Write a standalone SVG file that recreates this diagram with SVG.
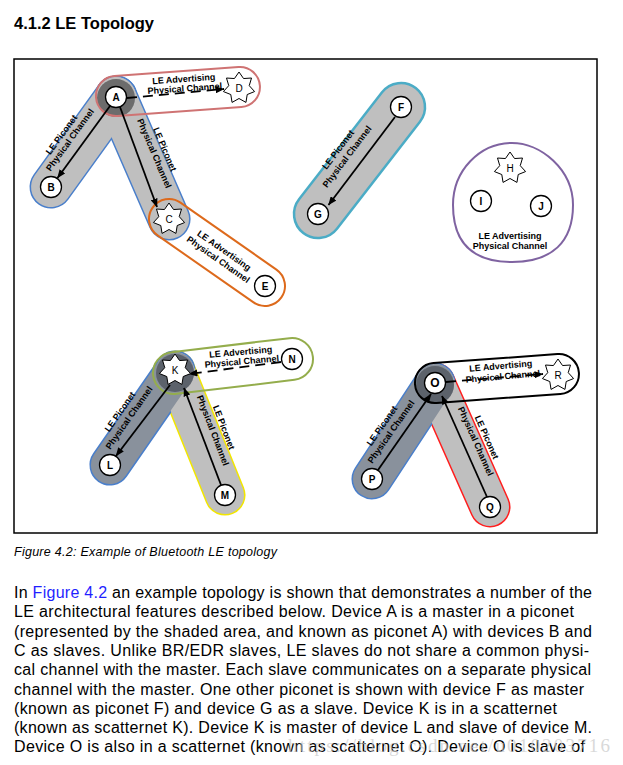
<svg xmlns="http://www.w3.org/2000/svg" xmlns:xlink="http://www.w3.org/1999/xlink" width="623" height="765" viewBox="0 0 623 765">
<style>
text{font-family:"Liberation Sans",Arial,sans-serif;fill:#000}
.title{font-size:16.5px;font-weight:bold}
.cap{font-size:12.5px;font-style:italic}
.body{font-size:16px}
.lbl{font-size:9px;font-weight:bold;text-anchor:middle}
.nl{font-size:10px;font-weight:bold;text-anchor:middle}
.sl{font-size:10px;text-anchor:middle}
.node{fill:#fff;stroke:#000;stroke-width:1.3}
.star{fill:#fff;stroke:#000;stroke-width:1}
.arr{stroke:#000;stroke-width:1.8;fill:none;marker-end:url(#ah)}
.dash{stroke-dasharray:10 6}
.lt{fill:#bfbfbf}
.dk{fill:#89919c}
.ov{fill:#6c6c6c}
.ovb{fill:#5c626b}
.adv{fill:none;stroke-width:2}
</style>
<defs>
<marker id="ah" viewBox="0 0 10 8" refX="9.5" refY="4" markerWidth="9" markerHeight="7" markerUnits="userSpaceOnUse" orient="auto">
<path d="M0,0 L10,4 L0,8 Z" fill="#000"/>
</marker>
<polygon id="star" points="0,-16 4.55,-9.46 12.51,-9.98 10.24,-2.34 15.59,3.56 8.21,6.54 6.94,14.41 0,10.5 -6.94,14.41 -8.21,6.54 -15.59,3.56 -10.24,-2.34 -12.51,-9.98 -4.55,-9.46"/>
<rect id="armAB" x="-75.5" y="-20" width="151" height="40" rx="20" transform="translate(83.5,142) rotate(125.8)"/>
<rect id="armAC" x="-86.5" y="-20" width="173" height="40" rx="20" transform="translate(142.5,158) rotate(66.5)"/>
<rect id="armKL" x="-76.2" y="-19" width="152.4" height="38" rx="19" transform="translate(142.5,418) rotate(124.7)"/>
<rect id="armKM" x="-85.9" y="-19" width="171.8" height="38" rx="19" transform="translate(200,433) rotate(68.04)"/>
<rect id="armOP" x="-76.4" y="-19" width="152.8" height="38" rx="19" transform="translate(403.5,431) rotate(123.3)"/>
<rect id="armOQ" x="-86.8" y="-19" width="173.6" height="38" rx="19" transform="translate(462.5,445) rotate(66.08)"/>
</defs>
<rect width="623" height="765" fill="#fff"/>
<text class="title" x="14" y="29">4.1.2 LE Topology</text>
<rect x="14" y="59" width="583" height="474" fill="none" stroke="#000" stroke-width="1.5"/>

<!-- piconet A shapes -->
<g id="piconetA">
<use xlink:href="#armAB" class="lt" stroke="#4a7fcb" stroke-width="3"/>
<use xlink:href="#armAC" class="lt" stroke="#4a7fcb" stroke-width="3"/>
<use xlink:href="#armAB" class="lt"/>
<use xlink:href="#armAC" class="lt"/>
<circle class="ov" cx="116" cy="98" r="19"/>
<rect class="adv" stroke="#cf7373" x="-82.2" y="-20" width="164.3" height="40" rx="20" transform="translate(178,91.5) rotate(-4.15)"/>
<rect class="adv" stroke="#dd6a1c" x="-78.5" y="-20" width="157" height="40" rx="20" transform="translate(217,252.5) rotate(34.91)"/>
</g>
<!-- piconet F -->
<g id="piconetF">
<rect fill="#bfbfbf" stroke="#4bacc6" stroke-width="2.5" x="-91.7" y="-24" width="183.4" height="48" rx="24" transform="translate(359.5,160.5) rotate(127.8)"/>
</g>
<!-- advertising H I J -->
<g id="advHIJ">
<path d="M510,143 C541,142 573,170 573,205 C573,242 552,262 512,262 C472,262 453,242 453,205 C453,170 480,144 510,143 Z" fill="none" stroke="#7f63a1" stroke-width="2"/>
</g>
<!-- scatternet K -->
<g id="scatternetK">
<use xlink:href="#armKM" class="lt" stroke="#f2e600" stroke-width="3"/>
<use xlink:href="#armKL" class="dk" stroke="#4a7fcb" stroke-width="3"/>
<use xlink:href="#armKM" class="lt"/>
<use xlink:href="#armKL" class="dk"/>
<circle class="ovb" cx="175" cy="373" r="19"/>
<rect class="adv" stroke="#94ad4c" x="-80.4" y="-21" width="160.8" height="42" rx="21" transform="translate(233,366) rotate(-6.77)"/>
</g>
<!-- scatternet O -->
<g id="scatternetO">
<use xlink:href="#armOQ" class="lt" stroke="#ff1e1e" stroke-width="3"/>
<use xlink:href="#armOP" class="dk" stroke="#4a7fcb" stroke-width="3"/>
<use xlink:href="#armOQ" class="lt"/>
<use xlink:href="#armOP" class="dk"/>
<circle class="ovb" cx="435" cy="385" r="19"/>
<rect class="adv" stroke="#000" x="-82.2" y="-20" width="164.3" height="40" rx="20" transform="translate(497,378.5) rotate(-4.15)"/>
</g>

<!-- connectors -->
<g id="connectors">
<line class="arr" x1="110" y1="106" x2="57.5" y2="178"/>
<line class="arr" x1="120" y1="107" x2="157" y2="207"/>
<line class="arr dash" x1="127" y1="98" x2="224" y2="89"/>
<line class="arr" x1="395" y1="117" x2="328.5" y2="205"/>
<line class="arr dash" x1="281" y1="362" x2="189" y2="374"/>
<line class="arr" x1="170" y1="385" x2="116" y2="456"/>
<line class="arr" x1="221" y1="485" x2="184" y2="388"/>
<line class="arr" x1="378" y1="470" x2="431" y2="394"/>
<line class="arr" x1="487" y1="497" x2="442" y2="396"/>
<line class="arr dash" x1="446" y1="382" x2="543" y2="374"/>
</g>

<!-- labels -->
<g id="labels">
<text class="lbl" transform="translate(64,136.5) rotate(-54)">LE Piconet</text>
<text class="lbl" transform="translate(72.5,141.5) rotate(-54)">Physical Channel</text>
<text class="lbl" transform="translate(162,150.5) rotate(67)">LE Piconet</text>
<text class="lbl" transform="translate(151.5,154.5) rotate(67)">Physical Channel</text>
<text class="lbl" transform="translate(184,82) rotate(-4)">LE Advertising</text>
<text class="lbl" transform="translate(185,91.5) rotate(-4)">Physical Channel</text>
<text class="lbl" transform="translate(222.5,253) rotate(35)">LE Advertising</text>
<text class="lbl" transform="translate(216.5,262) rotate(35)">Physical Channel</text>
<text class="lbl" transform="translate(340.5,151.5) rotate(-53)">LE Piconet</text>
<text class="lbl" transform="translate(349.5,158.5) rotate(-53)">Physical Channel</text>
<text class="lbl" x="510" y="239">LE Advertising</text>
<text class="lbl" x="510" y="249">Physical Channel</text>
<text class="lbl" transform="translate(122.5,413.5) rotate(-55)">LE Piconet</text>
<text class="lbl" transform="translate(131.5,419.5) rotate(-55)">Physical Channel</text>
<text class="lbl" transform="translate(221,428.5) rotate(69)">LE Piconet</text>
<text class="lbl" transform="translate(210,431.5) rotate(69)">Physical Channel</text>
<text class="lbl" transform="translate(241,355) rotate(-5)">LE Advertising</text>
<text class="lbl" transform="translate(242,364.5) rotate(-5)">Physical Channel</text>
<text class="lbl" transform="translate(384.5,427.5) rotate(-55)">LE Piconet</text>
<text class="lbl" transform="translate(393.5,433.5) rotate(-55)">Physical Channel</text>
<text class="lbl" transform="translate(484,438.5) rotate(66)">LE Piconet</text>
<text class="lbl" transform="translate(473,442.5) rotate(66)">Physical Channel</text>
<text class="lbl" transform="translate(501,369) rotate(-5)">LE Advertising</text>
<text class="lbl" transform="translate(503,379.5) rotate(-5)">Physical Channel</text>
</g>

<!-- nodes -->
<g id="A"><circle class="node" cx="116" cy="97" r="10.5"/><text class="nl" x="116" y="100.5">A</text></g>
<g id="B"><circle class="node" cx="51" cy="187" r="10.5"/><text class="nl" x="51" y="190.5">B</text></g>
<g id="C"><use xlink:href="#star" class="star" x="169" y="219"/><text class="sl" x="169" y="222.5">C</text></g>
<g id="D"><use xlink:href="#star" class="star" x="239" y="88"/><text class="sl" x="239" y="91.5">D</text></g>
<g id="E"><circle class="node" cx="265" cy="286" r="10.5"/><text class="nl" x="265" y="289.5">E</text></g>
<g id="F"><circle class="node" cx="401" cy="107" r="10.5"/><text class="nl" x="401" y="110.5">F</text></g>
<g id="G"><circle class="node" cx="318" cy="214" r="10.5"/><text class="nl" x="318" y="217.5">G</text></g>
<g id="H"><use xlink:href="#star" class="star" x="510" y="168"/><text class="sl" x="510" y="171.5">H</text></g>
<g id="I"><circle class="node" cx="481" cy="201" r="10.5"/><text class="nl" x="481" y="204.5">I</text></g>
<g id="J"><circle class="node" cx="541" cy="206" r="10.5"/><text class="nl" x="541" y="209.5">J</text></g>
<g id="K"><use xlink:href="#star" class="star" x="175" y="370"/><text class="sl" x="175" y="373.5">K</text></g>
<g id="L"><circle class="node" cx="110" cy="465" r="10.5"/><text class="nl" x="110" y="468.5">L</text></g>
<g id="M"><circle class="node" cx="225" cy="495" r="10.5"/><text class="nl" x="225" y="498.5">M</text></g>
<g id="N"><circle class="node" cx="292" cy="359" r="10.5"/><text class="nl" x="292" y="362.5">N</text></g>
<g id="O"><circle class="node" cx="435" cy="383" r="10.5"/><text class="nl" x="435" y="387" style="font-size:12px">O</text></g>
<g id="P"><circle class="node" cx="372" cy="479" r="10.5"/><text class="nl" x="372" y="482.5">P</text></g>
<g id="Q"><circle class="node" cx="490" cy="507" r="10.5"/><text class="nl" x="490" y="510.5">Q</text></g>
<g id="R"><use xlink:href="#star" class="star" x="558" y="375"/><text class="sl" x="558" y="378.5">R</text></g>

<text class="cap" x="14" y="556" textLength="263" lengthAdjust="spacing">Figure 4.2: Example of Bluetooth LE topology</text>

<g id="body">
<text class="body" x="14" y="598" textLength="578" lengthAdjust="spacing">In <tspan fill="#1f1fff">Figure 4.2</tspan> an example topology is shown that demonstrates a number of the</text>
<text class="body" x="14" y="617.3" textLength="560" lengthAdjust="spacing">LE architectural features described below. Device A is a master in a piconet</text>
<text class="body" x="14" y="636.6" textLength="578" lengthAdjust="spacing">(represented by the shaded area, and known as piconet A) with devices B and</text>
<text class="body" x="14" y="655.9" textLength="575" lengthAdjust="spacing">C as slaves. Unlike BR/EDR slaves, LE slaves do not share a common physi-</text>
<text class="body" x="14" y="675.2" textLength="577" lengthAdjust="spacing">cal channel with the master. Each slave communicates on a separate physical</text>
<text class="body" x="14" y="694.5" textLength="570" lengthAdjust="spacing">channel with the master. One other piconet is shown with device F as master</text>
<text class="body" x="14" y="713.8" textLength="543" lengthAdjust="spacing">(known as piconet F) and device G as a slave. Device K is in a scatternet</text>
<text class="body" x="14" y="733.1" textLength="578" lengthAdjust="spacing">(known as scatternet K). Device K is master of device L and slave of device M.</text>
<text class="body" x="14" y="752.4" textLength="571" lengthAdjust="spacing">Device O is also in a scatternet (known as scatternet O). Device O is slave of</text>
</g>
<text x="288" y="752" textLength="322" lengthAdjust="spacing" style="font-family:'Liberation Serif',serif;font-size:19px;fill:#c8c8c8;fill-opacity:0.7">https://blog.csdn.net/u010203716</text>
</svg>
